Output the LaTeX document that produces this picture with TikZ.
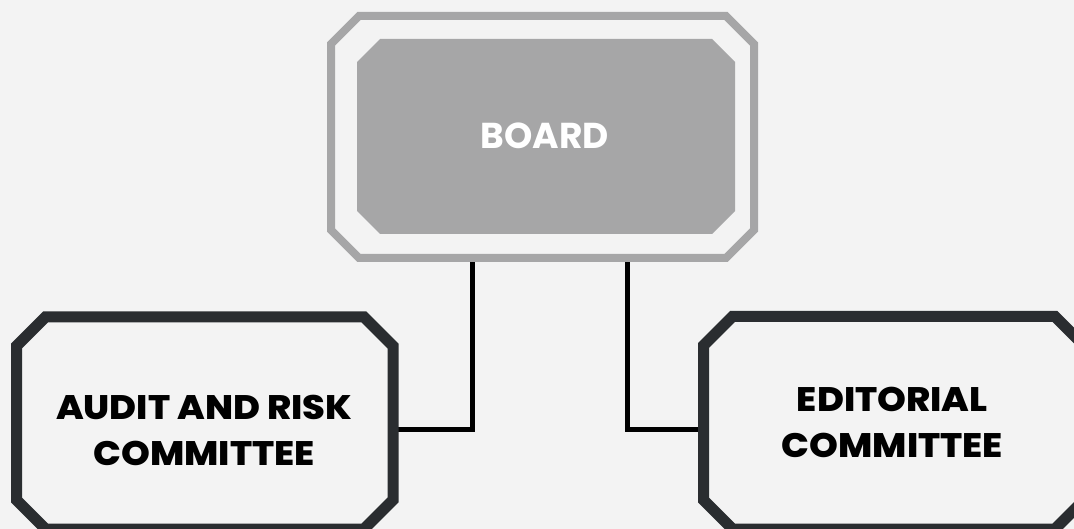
\documentclass[tikz,border=0pt]{standalone}
\usepackage{fontspec}
\setmainfont{Poppins}
\IfFontExistsTF{Poppins ExtraBold}{\newfontfamily\heavyfont{Poppins ExtraBold}[FakeStretch=1.08]}{\newfontfamily\heavyfont{Poppins}[FakeStretch=1.1]}
\usetikzlibrary{calc}
\definecolor{bggray}{HTML}{F3F3F3}
\definecolor{boardgray}{HTML}{A6A6A7}
\definecolor{darkedge}{HTML}{2A2D30}
\tikzset{
  x=1pt, y=-1pt,
  holder/.style={rectangle, inner sep=0pt, outer sep=0pt},
  octa/.style args={#1/#2}{insert path={([xshift=#2]#1.north west) -- ([xshift=-#2]#1.north east) -- ([yshift=-#2]#1.north east) -- ([yshift=#2]#1.south east) -- ([xshift=-#2]#1.south east) -- ([xshift=#2]#1.south west) -- ([yshift=#2]#1.south west) -- ([yshift=-#2]#1.north west) -- cycle}},
  grayline/.style={draw=boardgray, line width=8pt, line join=miter},
  grayfill/.style={fill=boardgray},
  darkline/.style={draw=darkedge, line width=11pt, line join=miter},
  conn/.style={draw=black, line width=5pt, line join=miter},
  boardtext/.style={text=white, inner sep=0pt, font=\fontsize{36}{40}\selectfont\bfseries},
  comtext/.style={text=black, align=center, inner sep=0pt, font=\fontsize{34}{45.5}\selectfont\heavyfont},
}
\begin{document}
\begin{tikzpicture}
\useasboundingbox (0,0) rectangle (1074,529);
\clip (0,0) rectangle (1074,529);
\fill[bggray] (0,0) rectangle (1074,529);
% holder nodes (centre lines of the outlines)
\node[holder, minimum width=423pt, minimum height=242pt] (bo) at (542.5,137) {};
\node[holder, minimum width=378pt, minimum height=195pt] (bi) at (546,136.5) {};
\node[holder, minimum width=376.5pt, minimum height=212pt] (audit) at (204.75,423) {};
\node[holder, minimum width=380.5pt, minimum height=212.5pt] (edit) at (893.75,422.75) {};
% connectors
\draw[conn] ([xshift=-70.5pt]bo.south) |- ([yshift=-6.5pt]audit.east);
\draw[conn] ([xshift=84.5pt]bo.south) |- ([yshift=-6.75pt]edit.west);
% shapes
\path[grayline] [octa=bo/28pt];
\path[grayfill] [octa=bi/23pt];
\path[darkline] [octa=audit/29pt];
\path[darkline] [octa=edit/29pt];
% texts
\node[boardtext] (boardlabel) at (545,136.3) {BOARD};
\node[comtext] (auditlabel) at (204.2,430.5) {AUDIT AND RISK\\COMMITTEE};
\node[comtext] (editlabel) at (892.3,422.2) {EDITORIAL\\COMMITTEE};
\end{tikzpicture}
\end{document}
